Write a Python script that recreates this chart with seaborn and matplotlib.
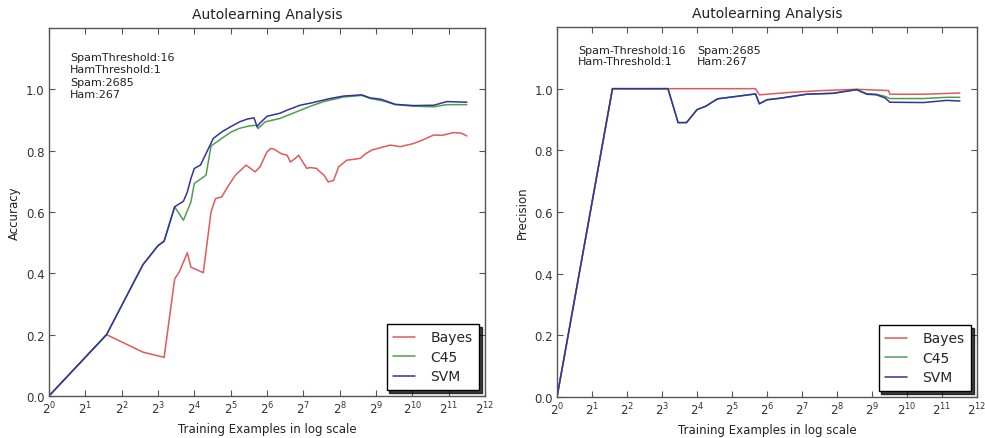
import numpy as np
import pandas as pd
import matplotlib
matplotlib.use("Agg")
import matplotlib.pyplot as plt
import seaborn as sns

# ---------------- data ----------------
classifiers = ["Bayes", "C45", "SVM"]

# Accuracy panel
bayes_acc_n = [1, 3, 6, 9, 11, 12, 14, 15, 19, 22, 24, 27, 30, 35, 43, 51, 56, 64, 69, 73,
               84, 94, 100, 110, 117, 128, 137, 146, 165, 171, 190, 206, 228, 251, 294,
               340, 380, 420, 474, 560, 671, 814, 1045, 1250, 1541, 1800, 2256, 2600, 2896]
bayes_acc = [0.0, 0.20, 0.143, 0.126, 0.382, 0.404, 0.467, 0.42, 0.402, 0.60, 0.644, 0.649,
             0.68, 0.72, 0.753, 0.731, 0.747, 0.796, 0.807, 0.805, 0.79, 0.785, 0.763, 0.775,
             0.785, 0.76, 0.742, 0.745, 0.742, 0.735, 0.72, 0.698, 0.703, 0.747, 0.769,
             0.772, 0.775, 0.79, 0.802, 0.81, 0.818, 0.813, 0.823, 0.835, 0.851, 0.85, 0.859,
             0.857, 0.848]

c45_acc_n = [1, 3, 6, 8, 9, 11, 13, 15, 16, 20, 22, 27, 32, 38, 45, 52, 54, 62, 82, 113,
             147, 189, 276, 391, 458, 588, 739, 1045, 1541, 1978, 2896]
c45_acc = [0.0, 0.20, 0.428, 0.49, 0.505, 0.617, 0.573, 0.633, 0.693, 0.72, 0.815, 0.84,
           0.86, 0.873, 0.88, 0.883, 0.872, 0.894, 0.905, 0.927, 0.945, 0.96, 0.975, 0.98,
           0.97, 0.962, 0.95, 0.945, 0.943, 0.95, 0.95]

svm_acc_n = [1, 3, 6, 8, 9, 11, 13, 14, 15, 16, 18, 23, 27, 32, 38, 44, 50, 53, 56, 64, 82,
             94, 120, 147, 189, 214, 276, 391, 458, 556, 588, 739, 1045, 1541, 1978, 2896]
svm_acc = [0.0, 0.20, 0.428, 0.49, 0.505, 0.617, 0.635, 0.665, 0.709, 0.742, 0.753, 0.84,
           0.861, 0.878, 0.894, 0.903, 0.907, 0.878, 0.89, 0.912, 0.922, 0.932, 0.948,
           0.955, 0.965, 0.97, 0.978, 0.982, 0.972, 0.968, 0.965, 0.951, 0.947, 0.948,
           0.96, 0.958]

# Precision panel
bayes_prec_n = [1, 3, 9, 51, 55, 101, 195, 377, 709, 729, 1418, 2916]
bayes_prec = [0.0, 1.0, 1.0, 1.0, 0.98, 0.988, 0.994, 0.998, 0.994, 0.982, 0.982, 0.986]

c45_prec_n = [1, 3, 9, 11, 13, 16, 19, 24, 35, 51, 55, 64, 83, 140, 237, 377, 461, 560,
              662, 729, 1418, 2241, 2916]
c45_prec = [0.0, 1.0, 1.0, 0.89, 0.89, 0.932, 0.943, 0.967, 0.975, 0.983, 0.951, 0.964,
            0.969, 0.982, 0.985, 0.997, 0.984, 0.982, 0.975, 0.968, 0.968, 0.972, 0.972]

svm_prec_n = [1, 3, 9, 11, 13, 16, 19, 24, 35, 51, 55, 64, 83, 140, 237, 377, 461, 560,
              662, 729, 1418, 2241, 2916]
svm_prec = [0.0, 1.0, 1.0, 0.89, 0.89, 0.932, 0.943, 0.967, 0.975, 0.983, 0.951, 0.964,
            0.969, 0.982, 0.985, 0.997, 0.982, 0.98, 0.97, 0.956, 0.955, 0.962, 0.96]

xtick_exponents = list(range(0, 13))
ytick_values = [0.0, 0.2, 0.4, 0.6, 0.8, 1.0]

# ---------------- build long tables ----------------
def long_table(ns, vals):
    frames = []
    for name, n, v in zip(classifiers, ns, vals):
        frames.append(pd.DataFrame({"n": n, "value": v, "clf": name}))
    return pd.concat(frames, ignore_index=True)

acc_df = long_table([bayes_acc_n, c45_acc_n, svm_acc_n], [bayes_acc, c45_acc, svm_acc])
prec_df = long_table([bayes_prec_n, c45_prec_n, svm_prec_n], [bayes_prec, c45_prec, svm_prec])

# ---------------- style ----------------
sns.set_style("ticks")
plt.rcParams.update({
    "font.family": ["DejaVu Sans"],
    "xtick.direction": "in",
    "ytick.direction": "in",
    "xtick.top": True,
    "ytick.right": True,
    "xtick.major.size": 4,
    "ytick.major.size": 4,
    "axes.edgecolor": "#555555",
    "axes.linewidth": 1.0,
    "xtick.color": "#555555",
    "ytick.color": "#555555",
    "xtick.labelcolor": "#333333",
    "ytick.labelcolor": "#333333",
})
palette = {"Bayes": "#e05a5a", "C45": "#4f9f4f", "SVM": "#33339e"}

fig = plt.figure(figsize=(9.85, 4.39), dpi=100)
ax1 = fig.add_axes([0.0497, 0.0957, 0.4427, 0.8383])
ax2 = fig.add_axes([0.5655, 0.0934, 0.4264, 0.8428])


def style_axis(ax, ylabel):
    ax.set_xscale("log", base=2)
    ax.set_xlim(2 ** 0, 2 ** 12)
    ax.set_ylim(0, 1.2)
    ax.set_xticks([2 ** e for e in xtick_exponents])
    ax.set_yticks(ytick_values)
    ax.set_yticklabels([f"{v:.1f}" for v in ytick_values])
    ax.minorticks_off()
    ax.tick_params(labelsize=8.5, pad=3)
    ax.set_title("Autolearning Analysis", fontsize=10, color="#222222", pad=7)
    ax.set_xlabel("Training Examples in log scale", fontsize=8.5, color="#222222")
    ax.set_ylabel(ylabel, fontsize=8.5, color="#222222")
    for s in ax.spines.values():
        s.set_visible(True)
    leg = ax.legend(loc="lower right", fontsize=10, frameon=True, fancybox=False,
                    shadow={"color": "black", "alpha": 0.75}, handlelength=1.6,
                    borderpad=0.45, labelspacing=0.4, handletextpad=1.1,
                    borderaxespad=0.45)
    leg.get_frame().set_edgecolor("black")
    leg.get_frame().set_linewidth(1.0)


sns.lineplot(data=acc_df, x="n", y="value", hue="clf", palette=palette,
             hue_order=classifiers, estimator=None, sort=True, linewidth=1.1, ax=ax1)
style_axis(ax1, "Accuracy")
ax1.text(0.048, 0.935, "SpamThreshold:16\nHamThreshold:1\nSpam:2685\nHam:267",
         transform=ax1.transAxes, fontsize=8, va="top", ha="left", color="#222222",
         linespacing=1.3)

sns.lineplot(data=prec_df, x="n", y="value", hue="clf", palette=palette,
             hue_order=classifiers, estimator=None, sort=True, linewidth=1.1, ax=ax2)
style_axis(ax2, "Precision")
ax2.text(0.05, 0.952, "Spam-Threshold:16\nHam-Threshold:1",
         transform=ax2.transAxes, fontsize=8, va="top", ha="left", color="#222222",
         linespacing=1.2)
ax2.text(0.333, 0.952, "Spam:2685\nHam:267",
         transform=ax2.transAxes, fontsize=8, va="top", ha="left", color="#222222",
         linespacing=1.2)

fig.savefig("out.png", dpi=100)
